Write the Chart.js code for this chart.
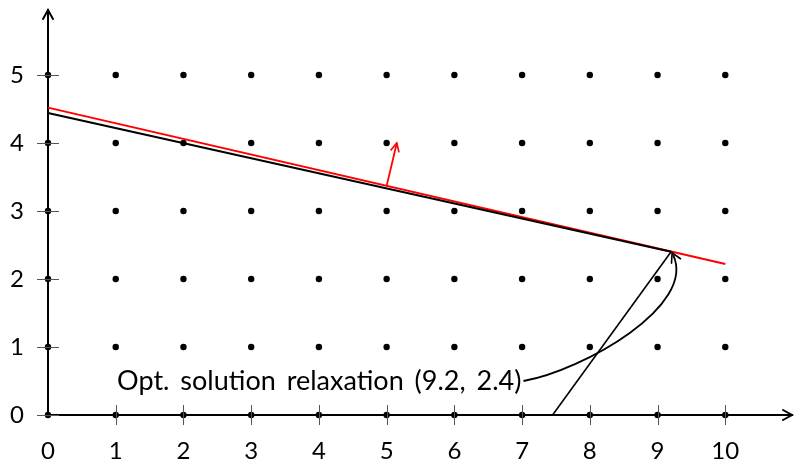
<!DOCTYPE html>
<html>
<head>
<meta charset="utf-8">
<script src="https://cdn.jsdelivr.net/npm/chart.js@4/dist/chart.umd.min.js"></script>
<style>
  html, body { margin: 0; padding: 0; background: #fff; }
  #wrap { width: 796px; height: 461px; }
</style>
</head>
<body>
<div id="wrap"><canvas id="chart"></canvas></div>
<script>
// integer lattice
const latticeX = [0, 1, 2, 3, 4, 5, 6, 7, 8, 9, 10];
const latticeY = [0, 1, 2, 3, 4, 5];

// constraints (black), objective (red) and its gradient arrow
const constraintAX = [0, 9.2];
const constraintAY = [4.44, 2.4];
const constraintBX = [9.2, 7.45];
const constraintBY = [2.4, 0];
const objectiveX = [0, 10];
const objectiveY = [4.52, 2.22];
const gradientX = [5, 5.15];
const gradientY = [3.37, 4.0];

// annotation
const optimum = [9.2, 2.4];
const labelAnchor = [7.02, 0.5];
const labelText = 'Opt. solution relaxation (9.2, 2.4)';

const xMax = 10.985;
const yMax = 5.956;
const font = { family: 'Lato', size: 24 };
const labelFont = { family: 'Lato', size: 27 };

const pts = (xs, ys) => xs.map((x, i) => ({ x: x, y: ys[i] }));
const lattice = [];
latticeY.forEach(y => latticeX.forEach(x => lattice.push({ x: x, y: y })));

function arrowHead(ctx, x, y, angle, len, spread, color, width) {
    ctx.save();
    ctx.translate(x, y);
    ctx.rotate(angle);
    ctx.strokeStyle = color;
    ctx.lineWidth = width;
    ctx.lineCap = 'round';
    ctx.beginPath();
    ctx.moveTo(-len, -spread);
    ctx.quadraticCurveTo(-len * 0.3, -spread * 0.3, 0, 0);
    ctx.quadraticCurveTo(-len * 0.3, spread * 0.3, -len, spread);
    ctx.stroke();
    ctx.restore();
}

function noPadding(s) {
    s.paddingTop = 0; s.paddingBottom = 0; s.paddingLeft = 0; s.paddingRight = 0;
}

const decorations = {
    id: 'decorations',
    afterDatasetsDraw(chart) {
        const ctx = chart.ctx;
        const xs = chart.scales.x, ys = chart.scales.y;
        const x0 = xs.getPixelForValue(0), y0 = ys.getPixelForValue(0);

        // tick marks crossing the axes
        ctx.save();
        ctx.strokeStyle = '#555';
        ctx.lineWidth = 1;
        ctx.beginPath();
        latticeX.slice(1).forEach(v => {
            const px = Math.round(xs.getPixelForValue(v)) + 0.5;
            ctx.moveTo(px, y0 - 10);
            ctx.lineTo(px, y0 + 10);
        });
        latticeY.forEach(v => {
            const py = Math.round(ys.getPixelForValue(v)) + 0.5;
            ctx.moveTo(x0 - 11, py);
            ctx.lineTo(x0 + 11, py);
        });
        ctx.stroke();
        ctx.restore();

        // axis arrows
        arrowHead(ctx, chart.chartArea.right, y0, 0, 9, 5, '#000', 2);
        arrowHead(ctx, x0, chart.chartArea.top, -Math.PI / 2, 9, 5, '#000', 2);

        // gradient arrow head
        const gx0 = xs.getPixelForValue(gradientX[0]), gy0 = ys.getPixelForValue(gradientY[0]);
        const gx1 = xs.getPixelForValue(gradientX[1]), gy1 = ys.getPixelForValue(gradientY[1]);
        arrowHead(ctx, gx1, gy1, Math.atan2(gy1 - gy0, gx1 - gx0), 8, 4, '#f00', 1.6);

        // annotation curve
        const sx = xs.getPixelForValue(labelAnchor[0]), sy = ys.getPixelForValue(labelAnchor[1]);
        const tx = xs.getPixelForValue(optimum[0]), ty = ys.getPixelForValue(optimum[1]);
        ctx.save();
        ctx.strokeStyle = '#000';
        ctx.lineWidth = 1.8;
        ctx.beginPath();
        ctx.moveTo(sx, sy);
        ctx.bezierCurveTo(sx + 60, sy - 11, tx + 26, ty + 54, tx + 2, ty + 3);
        ctx.stroke();
        ctx.restore();
        arrowHead(ctx, tx + 1, ty + 1, Math.atan2(-54, -26), 9, 5, '#000', 1.6);

        // annotation text
        ctx.save();
        ctx.font = labelFont.size + 'px ' + labelFont.family;
        ctx.fillStyle = '#000';
        ctx.textAlign = 'right';
        ctx.textBaseline = 'middle';
        if ('wordSpacing' in ctx) ctx.wordSpacing = '4px';
        ctx.fillText(labelText, sx - 2, sy);
        ctx.restore();
    }
};

new Chart(document.getElementById('chart'), {
    type: 'scatter',
    data: {
        datasets: [
            {
                data: pts(constraintBX, constraintBY),
                showLine: true, borderColor: '#000', borderWidth: 1.6,
                pointRadius: 0, clip: false
            },
            {
                data: pts(constraintAX, constraintAY),
                showLine: true, borderColor: '#000', borderWidth: 2,
                pointRadius: 0, clip: false
            },
            {
                data: pts(objectiveX, objectiveY),
                showLine: true, borderColor: '#f00', borderWidth: 2,
                pointRadius: 0, clip: false
            },
            {
                data: pts(gradientX, gradientY),
                showLine: true, borderColor: '#f00', borderWidth: 1.8,
                pointRadius: 0, clip: false
            },
            {
                data: lattice,
                pointRadius: 3.2, pointBackgroundColor: '#000',
                pointBorderWidth: 0, clip: false
            }
        ]
    },
    options: {
        responsive: true,
        maintainAspectRatio: false,
        animation: false,
        layout: { padding: { top: 10, right: 1, left: 0, bottom: 0 } },
        plugins: { legend: { display: false }, tooltip: { enabled: false } },
        scales: {
            x: {
                type: 'linear', min: 0, max: xMax,
                grid: { display: false, drawTicks: false },
                border: { display: true, color: '#000', width: 2 },
                ticks: { padding: 22, color: '#000', font: font, maxRotation: 0, autoSkip: false },
                afterBuildTicks: s => { s.ticks = latticeX.map(v => ({ value: v })); },
                afterFit: s => { s.height = 46; noPadding(s); }
            },
            y: {
                type: 'linear', min: 0, max: yMax,
                grid: { display: false, drawTicks: false },
                border: { display: true, color: '#000', width: 2 },
                ticks: { padding: 24, color: '#000', font: font, autoSkip: false },
                afterBuildTicks: s => { s.ticks = latticeY.map(v => ({ value: v })); },
                afterFit: s => { s.width = 48; noPadding(s); }
            }
        }
    },
    plugins: [decorations]
});
</script>
</body>
</html>
